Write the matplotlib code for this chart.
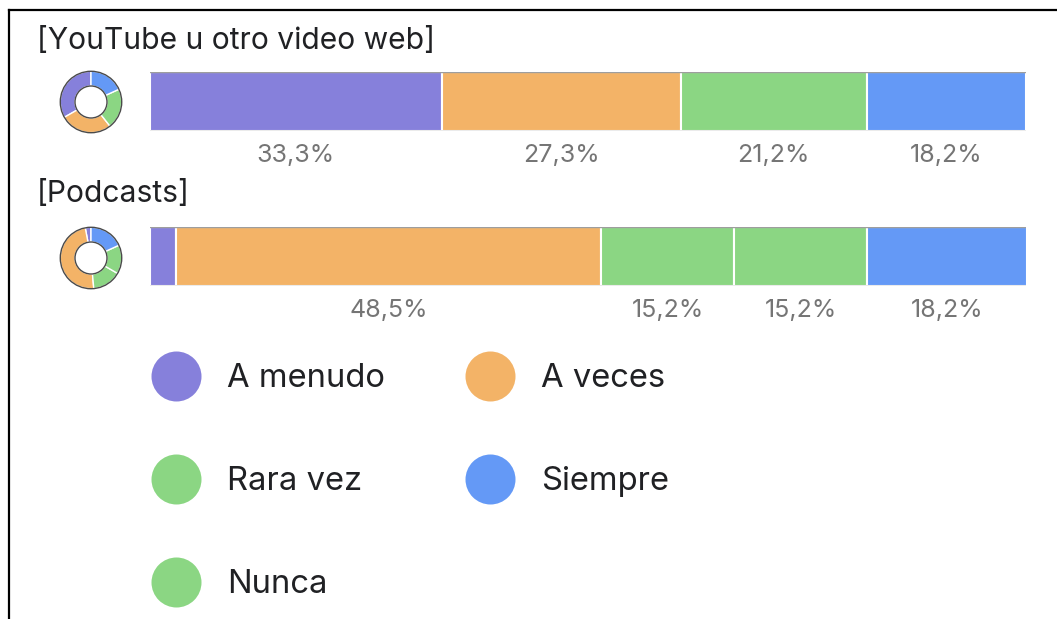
import matplotlib
matplotlib.use("Agg")
import matplotlib.pyplot as plt
from matplotlib.lines import Line2D
from matplotlib.patches import Circle

plt.rcParams['font.family'] = ['Inter', 'DejaVu Sans']

# Survey answers, in stacking order
answers = ['A menudo', 'A veces', 'Rara vez', 'Nunca', 'Siempre']
answer_colors = ['#8680DB', '#F3B367', '#8BD683', '#8BD683', '#6499F6']

questions = ['[YouTube u otro video web]', '[Podcasts]']
youtube_pct = [33.3, 27.3, 21.2, 0.0, 18.2]
podcasts_pct = [3.0, 48.5, 15.2, 15.2, 18.2]
question_values = [youtube_pct, podcasts_pct]

# Legend order (row by row, two per row)
legend_labels = ['A menudo', 'A veces', 'Rara vez', 'Siempre', 'Nunca']
legend_colors = ['#8680DB', '#F3B367', '#8BD683', '#6499F6', '#8BD683']

W, H = 1057, 619
fig = plt.figure(figsize=(W / 100, H / 100), dpi=100)


def px_axes(x0, y0, x1, y1):
    # axes from pixel box (origin top-left)
    return fig.add_axes([x0 / W, 1 - y1 / H, (x1 - x0) / W, (y1 - y0) / H])


# frame around the card (left and top edges visible)
fig.add_artist(Line2D([9 / W, 9 / W], [0, 1 - 10 / H], color='black', lw=1.6))
fig.add_artist(Line2D([9 / W, 1], [1 - 10 / H, 1 - 10 / H], color='black', lw=1.6))

title_y = [41, 194]
bar_top = [72, 227]
bar_h = 59
donut_cy = [102, 258]

for qi, (q, vals) in enumerate(zip(questions, question_values)):
    fig.text(37 / W, 1 - title_y[qi] / H, q, fontsize=21.6, color='#202124',
             va='center', ha='left')

    # stacked bar
    ax = px_axes(150, bar_top[qi], 1026, bar_top[qi] + bar_h)
    left = 0.0
    for v, c in zip(vals, answer_colors):
        if v > 0:
            ax.barh(0, v, left=left, height=1.0, color=c, edgecolor='white',
                    linewidth=1.5)
            if v >= 5:
                ax.annotate(f'{v:.1f}%'.replace('.', ','),
                            xy=(left + v / 2, 0), xycoords=ax.get_xaxis_transform(),
                            xytext=(0, -17.5), textcoords='offset points',
                            ha='center', va='center', fontsize=18, color='#757575')
        left += v
    ax.axhline(0.5, color='#9e9e9e', lw=1.0, zorder=5)
    ax.axhline(-0.5, color='#9e9e9e', lw=1.0, zorder=5)
    ax.set_xlim(0, 100)
    ax.set_ylim(-0.5, 0.5)
    ax.axis('off')

    # small donut
    cy = donut_cy[qi]
    pax = px_axes(91 - 32, cy - 32, 91 + 32, cy + 32)
    pie_vals = [v for v in vals if v > 0]
    pie_cols = [c for v, c in zip(vals, answer_colors) if v > 0]
    pax.pie(pie_vals, colors=pie_cols, startangle=90, counterclock=True,
            radius=0.96, wedgeprops=dict(width=0.46, edgecolor='white', linewidth=1.0))
    pax.add_patch(Circle((0, 0), 0.96, fill=False, ec='#4a4a4a', lw=1.0))
    pax.add_patch(Circle((0, 0), 0.50, fill=False, ec='#4a4a4a', lw=1.0))
    pax.set_xlim(-1, 1)
    pax.set_ylim(-1, 1)
    pax.set_aspect('equal')
    pax.axis('off')

# legend: two columns, rows top to bottom
lax = px_axes(176, 376, 804, 582)
for i, (lab, c) in enumerate(zip(legend_labels, legend_colors)):
    row, col = divmod(i, 2)
    lax.scatter(col, row, s=36 ** 2, color=c, clip_on=False, linewidths=0)
    lax.annotate(lab, xy=(col, row), xytext=(37, -1.5), textcoords='offset points',
                 ha='left', va='center', fontsize=23.6, color='#202124')
lax.set_xlim(0, 2)
lax.set_ylim(2, 0)
lax.axis('off')

fig.savefig('out.png', dpi=100, facecolor='white')
